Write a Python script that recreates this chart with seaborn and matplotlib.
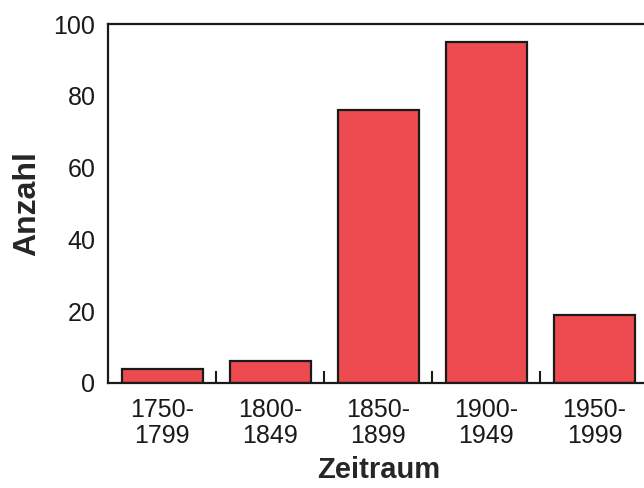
import numpy as np
import pandas as pd
import matplotlib
matplotlib.use('Agg')
import matplotlib.pyplot as plt
from matplotlib.ticker import FixedLocator
import seaborn as sns

# data
zeitraum = ['1750-\n1799', '1800-\n1849', '1850-\n1899', '1900-\n1949', '1950-\n1999']
anzahl = [4, 6, 76, 95, 19]

df = pd.DataFrame({'Zeitraum': zeitraum, 'Anzahl': anzahl})

sns.set_style('white')
plt.rcParams['font.family'] = ['Liberation Sans', 'DejaVu Sans']

fig = plt.figure(figsize=(6.44, 4.88), dpi=100)
ax = fig.add_axes([0.1677, 0.2152, 0.8393, 0.7356])

sns.barplot(data=df, x='Zeitraum', y='Anzahl', color='#EE4B50', saturation=1,
            edgecolor='#1a1a1a', linewidth=1.6, width=0.75, ax=ax)

ax.set_ylim(0, 100)
ax.set_xlim(-0.5, 4.5)
ax.set_yticks([0, 20, 40, 60, 80, 100])
ax.tick_params(axis='y', direction='in', length=9, width=1.5, pad=9,
               labelsize=18, colors='#1a1a1a', right=False)
ax.tick_params(axis='x', which='major', length=0, pad=11, labelsize=18,
               colors='#1a1a1a')
ax.xaxis.set_minor_locator(FixedLocator([0.5, 1.5, 2.5, 3.5, 4.5]))
ax.tick_params(axis='x', which='minor', direction='in', length=9, width=1.5,
               bottom=True, color='#1a1a1a')
for lab in ax.get_xticklabels():
    lab.set_linespacing(1.1)

for s in ax.spines.values():
    s.set_linewidth(1.6)
    s.set_color('#1a1a1a')

ax.set_xlabel('Zeitraum', fontsize=21, fontweight='bold', labelpad=6)
ax.set_ylabel('Anzahl', fontsize=23, fontweight='bold', labelpad=8)

fig.savefig('out.png', dpi=100)
